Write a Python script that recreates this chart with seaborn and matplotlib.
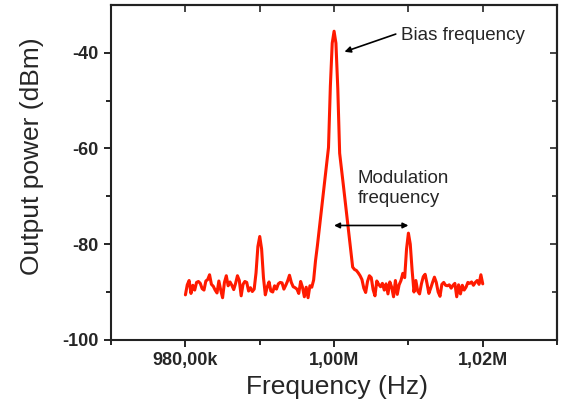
import numpy as np
import matplotlib
matplotlib.use("Agg")
import matplotlib.pyplot as plt
import seaborn as sns

# spectrum analyzer trace, 980 kHz .. 1020 kHz, 0.25 kHz per point
power_dbm = [
    -90.6, -88.5, -87.6, -90.3, -88.6, -89.6, -88.0, -87.8,   # 980k
    -88.2, -89.3, -89.6, -87.7, -87.4, -86.4, -88.4, -88.8,   # 982k
    -89.6, -90.2, -87.7, -89.6, -91.2, -88.0, -86.6, -88.7,   # 984k
    -87.9, -88.6, -89.5, -88.2, -86.6, -87.6, -90.8, -88.4,   # 986k
    -87.8, -88.0, -89.8, -89.1, -89.9, -89.4, -86.0, -80.5,   # 988k
    -78.4, -81.0, -87.0, -90.6, -89.0, -87.9, -89.8, -90.0,   # 990k
    -88.7, -89.4, -88.3, -88.0, -88.1, -89.4, -88.6, -87.7,   # 992k
    -86.5, -88.0, -88.9, -89.1, -89.4, -90.3, -87.8, -89.0,   # 994k
    -91.0, -89.0, -91.2, -88.7, -89.0, -87.5, -83.5, -80.4,   # 996k
    -77.0, -73.5, -70.0, -66.6, -63.2, -59.8, -47.0, -38.0,   # 998k
    -35.5, -38.0, -47.5, -61.0, -64.3, -67.7, -71.1, -74.6,   # 1000k
    -78.0, -81.5, -84.8, -85.3, -85.5, -86.0, -86.6, -87.4,   # 1002k
    -89.2, -90.1, -87.8, -86.6, -87.0, -89.5, -90.8, -87.7,   # 1004k
    -88.4, -88.9, -88.2, -89.6, -88.3, -90.4, -87.9, -89.0,   # 1006k
    -91.0, -87.6, -90.5, -88.5, -87.6, -86.1, -87.0, -81.0,   # 1008k
    -77.7, -80.0, -85.5, -90.0, -87.6, -89.8, -90.4, -88.3,   # 1010k
    -86.8, -86.3, -88.2, -90.3, -89.2, -88.0, -86.9, -88.0,   # 1012k
    -90.0, -90.9, -88.4, -88.0, -88.6, -88.7, -88.5, -89.2,   # 1014k
    -88.6, -88.2, -91.0, -88.5, -90.4, -88.6, -89.6, -89.0,   # 1016k
    -88.0, -88.2, -87.9, -88.6, -88.0, -87.6, -88.4, -86.4,   # 1018k
    -88.3,                                                    # 1020k
]
span_start_hz = 980e3
span_stop_hz = 1020e3
freq_hz = np.linspace(span_start_hz, span_stop_hz, len(power_dbm))

x_ticks = [980e3, 1000e3, 1020e3]
x_ticklabels = ["980,00k", "1,00M", "1,02M"]
x_minor = [970e3, 990e3, 1010e3, 1030e3]
y_ticks = [-100, -80, -60, -40]
y_minor = [-90, -70, -50]

sns.set_style("ticks")
plt.rcParams["font.family"] = ["Liberation Sans", "DejaVu Sans"]

fig = plt.figure(figsize=(5.61, 4.07), dpi=100)
ax = fig.add_axes([0.198, 0.165, 0.795, 0.823])

sns.lineplot(x=freq_hz, y=power_dbm, ax=ax, color="#ff1a00", linewidth=2.2,
             estimator=None, sort=False)

ax.set_xlim(970e3, 1030e3)
ax.set_ylim(-100, -30)
ax.set_xticks(x_ticks)
ax.set_xticklabels(x_ticklabels, fontsize=13, fontweight="bold")
ax.set_xticks(x_minor, minor=True)
ax.set_yticks(y_ticks)
ax.set_yticklabels([str(v) for v in y_ticks], fontsize=13, fontweight="bold")
ax.set_yticks(y_minor, minor=True)
ax.tick_params(which="major", direction="out", length=5, width=1.2, color="black", pad=4)
ax.tick_params(which="minor", direction="out", length=3.5, width=1.2, color="black")

for s in ax.spines.values():
    s.set_linewidth(1.5)
    s.set_color("#222222")

# top / right ticks point inwards
top = ax.secondary_xaxis("top")
top.set_xticks(x_ticks)
top.set_xticks(x_minor, minor=True)
top.tick_params(which="both", direction="in", length=5, width=1.2, labeltop=False)
top.spines["top"].set_linewidth(1.5)
right = ax.secondary_yaxis("right")
right.set_yticks(y_ticks)
right.set_yticks(y_minor, minor=True)
right.tick_params(which="major", direction="in", length=5, width=1.2, labelright=False)
right.tick_params(which="minor", direction="in", length=3.5, width=1.2, labelright=False)
right.spines["right"].set_linewidth(1.5)

ax.set_xlabel("Frequency (Hz)", fontsize=19)
ax.set_ylabel("Output power (dBm)", fontsize=19)
ax.xaxis.set_label_coords(0.506, -0.105)
ax.yaxis.set_label_coords(-0.150, 0.549)

# annotations
ax.annotate("", xy=(1001.4e3, -39.8), xytext=(1008.3e3, -36.1),
            arrowprops=dict(arrowstyle="-|>", color="black", lw=1.2,
                            mutation_scale=9, shrinkA=0, shrinkB=0))
ax.text(1009.0e3, -36.5, "Bias frequency", fontsize=13.5, ha="left", va="center")
ax.annotate("", xy=(1000.0e3, -76.1), xytext=(1010.0e3, -76.1),
            arrowprops=dict(arrowstyle="<|-|>", color="black", lw=1.2,
                            mutation_scale=8, shrinkA=0, shrinkB=0))
ax.text(1003.2e3, -68.3, "Modulation\nfrequency", fontsize=13.5, ha="left",
        va="center", linespacing=1.25)

fig.savefig("out.png", dpi=100)
